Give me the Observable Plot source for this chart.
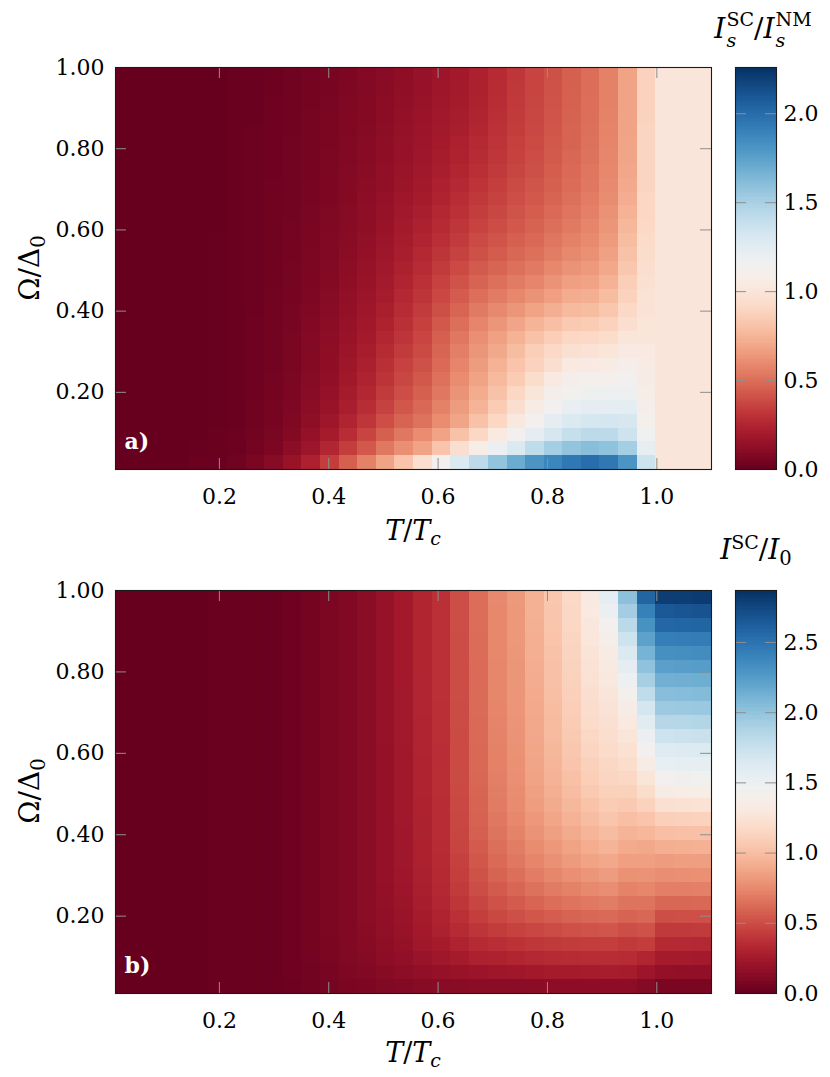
<!DOCTYPE html>
<html><head><meta charset="utf-8">
<script src="https://cdn.jsdelivr.net/npm/d3@7"></script>
<script src="https://cdn.jsdelivr.net/npm/@observablehq/plot@0.6"></script>
<style>
body{margin:0;background:#fff;}
#page{position:relative;width:830px;height:1077px;font-family:"DejaVu Serif","Liberation Serif",serif;color:#000;overflow:hidden;}
.lbl{position:absolute;font-size:27px;line-height:1;white-space:nowrap;transform:translate(-50%,-50%);}
.ttl{font-size:28px;}
.rot{transform:translate(-50%,-50%) rotate(-90deg);font-size:28px;}
.lbl sub{font-size:0.7em;vertical-align:-0.3em;line-height:0;}
.lbl sup{font-size:0.68em;vertical-align:0.5em;line-height:0;}
.ss{display:inline-flex;flex-direction:column;font-size:0.68em;line-height:1.12;vertical-align:0.66em;margin-left:1px;}
</style></head>
<body><div id="page"></div>
<script>
// T/Tc cell centres (columns) and Omega/Delta0 cell centres (rows)
const temp = [0.027,0.061,0.095,0.129,0.163,0.198,0.232,0.266,0.300,0.334,0.368,0.402,0.436,0.470,0.504,0.538,0.572,0.606,0.640,0.674,0.709,0.743,0.777,0.811,0.845,0.879,0.913,0.947,0.981,1.015,1.049,1.083];
const omega = [0.027,0.061,0.095,0.129,0.164,0.198,0.232,0.266,0.300,0.334,0.368,0.403,0.437,0.471,0.505,0.539,0.573,0.607,0.642,0.676,0.710,0.744,0.778,0.812,0.846,0.880,0.915,0.949,0.983];
const xTicks = [0.2,0.4,0.6,0.8,1.0];
const yTicks = [0.2,0.4,0.6,0.8,1.0];
const cbTicksA = [0,0.5,1.0,1.5,2.0];
const cbTicksB = [0,0.5,1.0,1.5,2.0,2.5];
const maxA = 2.26, maxB = 2.87;

// panel a) I_s^SC / I_s^NM : one array per T column, Omega ascending
const ratioA = [
[0,0,0,0,0,0,0,0,0,0,0,0,0,0,0,0,0,0,0,0,0,0,0,0,0,0,0,0,0],
[0,0,0,0,0,0,0,0,0,0,0,0,0,0,0,0,0,0,0,0,0,0,0,0,0,0,0,0,0],
[0,0,0,0,0,0,0,0,0,0,0,0,0,0,0,0,0,0,0,0,0,0,0,0,0,0,0,0,0],
[0,0,0,0,0,0,0,0,0,0,0,0,0,0,0,0,0,0,0,0,0,0,0,0,0,0,0,0,0],
[0.005,0.002,0,0,0,0,0,0,0,0,0,0,0,0,0,0,0,0,0,0,0,0,0,0,0,0,0,0,0],
[0.011,0.007,0.005,0.004,0.003,0.003,0.003,0.002,0.002,0.002,0.002,0.002,0.002,0.002,0.002,0.002,0.002,0.001,0.001,0.001,0.001,0.001,0.001,0.001,0.001,0.001,0,0,0],
[0.027,0.018,0.014,0.011,0.009,0.009,0.009,0.008,0.008,0.008,0.008,0.007,0.007,0.007,0.007,0.006,0.006,0.006,0.006,0.006,0.005,0.005,0.005,0.005,0.005,0.005,0.005,0.005,0.005],
[0.057,0.041,0.032,0.027,0.025,0.023,0.023,0.023,0.02,0.02,0.02,0.018,0.018,0.018,0.018,0.016,0.016,0.016,0.016,0.016,0.014,0.014,0.014,0.014,0.014,0.011,0.011,0.011,0.011],
[0.095,0.068,0.054,0.047,0.043,0.041,0.038,0.036,0.036,0.034,0.034,0.032,0.032,0.029,0.029,0.027,0.027,0.027,0.025,0.025,0.025,0.023,0.023,0.023,0.02,0.02,0.02,0.018,0.018],
[0.154,0.113,0.09,0.077,0.07,0.066,0.061,0.059,0.057,0.054,0.052,0.05,0.047,0.045,0.043,0.041,0.041,0.038,0.036,0.036,0.034,0.034,0.032,0.032,0.029,0.029,0.029,0.027,0.027],
[0.226,0.17,0.14,0.12,0.108,0.102,0.095,0.09,0.086,0.084,0.079,0.075,0.07,0.068,0.063,0.061,0.059,0.057,0.054,0.052,0.05,0.047,0.045,0.045,0.043,0.043,0.041,0.041,0.038],
[0.339,0.253,0.203,0.174,0.154,0.14,0.131,0.124,0.12,0.113,0.106,0.102,0.095,0.09,0.086,0.081,0.079,0.075,0.072,0.068,0.066,0.063,0.061,0.059,0.057,0.057,0.054,0.052,0.052],
[0.452,0.339,0.283,0.244,0.217,0.199,0.185,0.174,0.163,0.154,0.145,0.136,0.129,0.122,0.115,0.108,0.104,0.099,0.095,0.09,0.088,0.084,0.081,0.079,0.077,0.075,0.072,0.07,0.068],
[0.565,0.429,0.362,0.316,0.283,0.258,0.24,0.224,0.21,0.197,0.185,0.174,0.163,0.154,0.145,0.136,0.129,0.122,0.118,0.113,0.108,0.104,0.099,0.097,0.093,0.09,0.088,0.086,0.084],
[0.678,0.531,0.452,0.396,0.357,0.33,0.307,0.287,0.269,0.251,0.235,0.219,0.206,0.194,0.183,0.172,0.163,0.154,0.147,0.14,0.133,0.129,0.124,0.12,0.115,0.111,0.108,0.104,0.102],
[0.814,0.61,0.531,0.463,0.425,0.396,0.373,0.353,0.334,0.312,0.294,0.276,0.26,0.244,0.231,0.217,0.206,0.194,0.183,0.174,0.165,0.158,0.151,0.145,0.14,0.136,0.131,0.127,0.124],
[0.949,0.678,0.599,0.515,0.481,0.452,0.429,0.407,0.386,0.366,0.348,0.33,0.312,0.294,0.276,0.26,0.244,0.228,0.215,0.203,0.192,0.183,0.176,0.17,0.163,0.158,0.154,0.149,0.147],
[1.13,0.814,0.678,0.599,0.565,0.531,0.509,0.486,0.47,0.452,0.429,0.402,0.377,0.353,0.33,0.31,0.289,0.271,0.255,0.24,0.226,0.215,0.206,0.197,0.19,0.183,0.179,0.174,0.17],
[1.288,0.949,0.802,0.689,0.655,0.622,0.599,0.576,0.554,0.531,0.502,0.47,0.441,0.411,0.384,0.357,0.334,0.314,0.294,0.278,0.262,0.249,0.237,0.226,0.217,0.21,0.203,0.197,0.192],
[1.424,1.074,0.904,0.802,0.746,0.712,0.678,0.655,0.633,0.61,0.576,0.538,0.502,0.468,0.436,0.407,0.382,0.359,0.339,0.321,0.305,0.289,0.276,0.264,0.253,0.244,0.237,0.231,0.226],
[1.571,1.187,1.028,0.904,0.848,0.802,0.768,0.735,0.701,0.671,0.633,0.588,0.542,0.506,0.47,0.441,0.416,0.393,0.373,0.357,0.341,0.328,0.316,0.305,0.296,0.289,0.283,0.276,0.271],
[1.695,1.288,1.13,1.017,0.949,0.904,0.848,0.814,0.78,0.735,0.689,0.633,0.583,0.542,0.506,0.475,0.452,0.429,0.411,0.396,0.382,0.368,0.357,0.348,0.339,0.332,0.325,0.321,0.316],
[1.808,1.413,1.232,1.13,1.062,0.994,0.938,0.881,0.859,0.802,0.746,0.678,0.622,0.576,0.538,0.506,0.481,0.461,0.443,0.427,0.414,0.402,0.393,0.384,0.377,0.373,0.368,0.364,0.362],
[1.876,1.514,1.311,1.232,1.13,1.085,1.028,0.949,0.915,0.859,0.791,0.723,0.667,0.622,0.583,0.549,0.524,0.502,0.484,0.468,0.452,0.443,0.434,0.427,0.42,0.416,0.411,0.409,0.407],
[1.944,1.571,1.39,1.288,1.209,1.141,1.085,1.028,0.961,0.904,0.836,0.768,0.712,0.667,0.622,0.588,0.56,0.538,0.52,0.506,0.493,0.484,0.475,0.468,0.463,0.459,0.457,0.452,0.452],
[1.989,1.605,1.424,1.311,1.232,1.164,1.107,1.04,0.983,0.915,0.848,0.78,0.723,0.678,0.644,0.615,0.592,0.574,0.558,0.545,0.533,0.524,0.515,0.511,0.506,0.502,0.499,0.497,0.497],
[1.944,1.582,1.424,1.322,1.232,1.175,1.107,1.051,0.994,0.938,0.881,0.825,0.78,0.735,0.701,0.673,0.651,0.633,0.617,0.603,0.592,0.583,0.579,0.574,0.57,0.567,0.565,0.565,0.565],
[1.808,1.514,1.356,1.311,1.243,1.175,1.13,1.085,1.04,0.994,0.949,0.915,0.881,0.859,0.825,0.802,0.78,0.757,0.735,0.719,0.705,0.696,0.689,0.683,0.678,0.678,0.678,0.678,0.678],
[1.356,1.22,1.153,1.107,1.085,1.074,1.062,1.051,1.028,1.006,0.994,0.983,0.972,0.961,0.949,0.938,0.927,0.915,0.904,0.904,0.893,0.893,0.893,0.893,0.893,0.886,0.881,0.881,0.881],
[1,1,1,1,1,1,1,1,1,1,1,1,1,1,1,1,1,1,1,1,1,1,1,1,1,1,1,1,1],
[1,1,1,1,1,1,1,1,1,1,1,1,1,1,1,1,1,1,1,1,1,1,1,1,1,1,1,1,1],
[1,1,1,1,1,1,1,1,1,1,1,1,1,1,1,1,1,1,1,1,1,1,1,1,1,1,1,1,1]
];

// panel b) I^SC / I_0 : one array per T column, Omega ascending
const currentB = [
[0,0,0,0,0,0,0,0,0,0,0,0,0,0,0,0,0,0,0,0,0,0,0,0,0,0,0,0,0],
[0,0,0,0,0,0,0,0,0,0,0,0,0,0,0,0,0,0,0,0,0,0,0,0,0,0,0,0,0],
[0,0,0,0,0,0,0,0,0,0,0,0,0,0,0,0,0,0,0,0,0,0,0,0,0,0,0,0,0],
[0,0,0,0,0,0,0,0,0,0,0,0,0,0,0,0,0,0,0,0,0,0,0,0,0,0,0,0,0],
[0,0,0,0,0,0,0,0,0,0,0,0,0,0,0,0,0,0,0,0,0,0,0,0,0,0,0,0,0],
[0.006,0.006,0.006,0.006,0.006,0.006,0.006,0.006,0.006,0.006,0.006,0.006,0.006,0.006,0.006,0.006,0.006,0.006,0.006,0.006,0.006,0.006,0.006,0.006,0.006,0.006,0.006,0.006,0.006],
[0.009,0.009,0.009,0.009,0.009,0.009,0.009,0.009,0.009,0.009,0.009,0.009,0.009,0.009,0.009,0.009,0.009,0.009,0.009,0.009,0.009,0.009,0.009,0.009,0.009,0.009,0.009,0.009,0.009],
[0.011,0.011,0.011,0.011,0.011,0.011,0.011,0.011,0.011,0.011,0.011,0.011,0.011,0.011,0.011,0.011,0.011,0.011,0.011,0.011,0.011,0.011,0.011,0.011,0.011,0.011,0.011,0.011,0.011],
[0.014,0.017,0.017,0.017,0.017,0.017,0.017,0.017,0.017,0.017,0.017,0.017,0.017,0.017,0.017,0.017,0.017,0.017,0.017,0.017,0.017,0.017,0.017,0.017,0.017,0.017,0.017,0.017,0.017],
[0.023,0.026,0.029,0.029,0.029,0.029,0.029,0.029,0.029,0.029,0.029,0.029,0.029,0.029,0.029,0.029,0.029,0.029,0.029,0.029,0.029,0.029,0.029,0.029,0.029,0.029,0.029,0.029,0.029],
[0.04,0.046,0.049,0.052,0.052,0.052,0.052,0.052,0.052,0.052,0.052,0.052,0.052,0.052,0.052,0.052,0.052,0.052,0.052,0.052,0.052,0.052,0.052,0.052,0.052,0.052,0.052,0.052,0.052],
[0.057,0.066,0.072,0.075,0.077,0.077,0.077,0.077,0.077,0.077,0.077,0.077,0.077,0.077,0.077,0.077,0.077,0.077,0.077,0.077,0.077,0.077,0.077,0.077,0.077,0.077,0.077,0.077,0.077],
[0.075,0.089,0.098,0.103,0.106,0.106,0.106,0.106,0.106,0.106,0.106,0.106,0.106,0.106,0.106,0.106,0.106,0.106,0.106,0.106,0.106,0.106,0.106,0.106,0.106,0.106,0.106,0.106,0.106],
[0.086,0.106,0.118,0.126,0.132,0.135,0.138,0.138,0.138,0.138,0.138,0.138,0.138,0.138,0.138,0.138,0.138,0.138,0.138,0.138,0.138,0.138,0.138,0.138,0.138,0.138,0.138,0.138,0.138],
[0.098,0.126,0.144,0.155,0.164,0.169,0.172,0.175,0.178,0.178,0.181,0.181,0.181,0.184,0.184,0.184,0.184,0.184,0.187,0.187,0.187,0.187,0.187,0.187,0.187,0.187,0.187,0.187,0.187],
[0.109,0.144,0.166,0.184,0.195,0.204,0.21,0.215,0.221,0.224,0.227,0.23,0.232,0.235,0.235,0.238,0.238,0.238,0.241,0.241,0.241,0.241,0.244,0.244,0.244,0.244,0.244,0.244,0.244],
[0.121,0.166,0.201,0.224,0.244,0.258,0.27,0.278,0.284,0.287,0.293,0.296,0.298,0.301,0.304,0.307,0.307,0.31,0.31,0.31,0.313,0.313,0.313,0.316,0.316,0.316,0.316,0.316,0.316],
[0.129,0.184,0.23,0.258,0.287,0.304,0.319,0.33,0.339,0.344,0.35,0.353,0.356,0.359,0.362,0.362,0.364,0.364,0.367,0.367,0.367,0.37,0.37,0.37,0.373,0.373,0.373,0.373,0.373],
[0.132,0.195,0.258,0.304,0.344,0.373,0.399,0.419,0.436,0.448,0.459,0.468,0.474,0.479,0.482,0.485,0.488,0.491,0.491,0.494,0.494,0.497,0.497,0.499,0.499,0.499,0.502,0.502,0.502],
[0.135,0.207,0.287,0.342,0.393,0.433,0.468,0.497,0.519,0.54,0.557,0.571,0.583,0.591,0.597,0.603,0.608,0.611,0.614,0.617,0.62,0.62,0.623,0.623,0.626,0.626,0.629,0.629,0.631],
[0.138,0.218,0.301,0.364,0.425,0.476,0.519,0.557,0.588,0.614,0.637,0.657,0.672,0.686,0.697,0.706,0.712,0.718,0.723,0.726,0.729,0.732,0.735,0.738,0.74,0.74,0.743,0.743,0.746],
[0.138,0.23,0.316,0.382,0.451,0.508,0.557,0.6,0.637,0.669,0.697,0.72,0.74,0.755,0.766,0.775,0.781,0.786,0.792,0.795,0.798,0.801,0.804,0.806,0.809,0.812,0.815,0.815,0.818],
[0.141,0.244,0.33,0.402,0.474,0.54,0.597,0.649,0.692,0.729,0.763,0.792,0.815,0.835,0.85,0.861,0.87,0.878,0.884,0.89,0.895,0.901,0.907,0.913,0.918,0.921,0.924,0.93,0.933],
[0.144,0.253,0.344,0.416,0.494,0.565,0.629,0.686,0.735,0.778,0.815,0.85,0.878,0.901,0.921,0.938,0.953,0.964,0.976,0.984,0.993,1.002,1.01,1.016,1.022,1.03,1.036,1.042,1.048],
[0.144,0.258,0.35,0.425,0.511,0.588,0.657,0.718,0.772,0.821,0.864,0.901,0.936,0.964,0.99,1.013,1.033,1.05,1.065,1.079,1.091,1.102,1.114,1.122,1.131,1.139,1.148,1.157,1.162],
[0.144,0.264,0.356,0.431,0.522,0.606,0.68,0.746,0.806,0.861,0.91,0.953,0.993,1.027,1.059,1.088,1.114,1.137,1.157,1.177,1.194,1.211,1.228,1.243,1.257,1.271,1.289,1.306,1.32],
[0.144,0.267,0.359,0.436,0.531,0.617,0.697,0.769,0.832,0.89,0.944,0.993,1.039,1.076,1.108,1.134,1.157,1.177,1.2,1.223,1.246,1.269,1.292,1.314,1.34,1.378,1.435,1.507,1.579],
[0.144,0.264,0.35,0.416,0.502,0.588,0.66,0.723,0.786,0.847,0.898,0.947,1.005,1.062,1.114,1.157,1.191,1.225,1.263,1.306,1.349,1.421,1.492,1.564,1.636,1.722,1.822,1.923,2.023],
[0.115,0.215,0.316,0.431,0.517,0.603,0.66,0.732,0.789,0.847,0.89,0.961,1.033,1.119,1.191,1.263,1.349,1.435,1.507,1.593,1.679,1.794,1.909,2.009,2.109,2.21,2.31,2.411,2.583],
[0.072,0.172,0.258,0.339,0.416,0.502,0.603,0.703,0.769,0.832,0.918,1.005,1.105,1.22,1.349,1.435,1.535,1.607,1.722,1.837,1.952,2.038,2.124,2.224,2.325,2.425,2.569,2.655,2.798],
[0.072,0.166,0.253,0.336,0.416,0.505,0.606,0.706,0.775,0.838,0.924,1.01,1.111,1.225,1.355,1.444,1.544,1.622,1.731,1.845,1.96,2.046,2.132,2.233,2.333,2.434,2.574,2.669,2.798],
[0.072,0.164,0.25,0.333,0.419,0.508,0.608,0.709,0.781,0.844,0.93,1.016,1.119,1.234,1.363,1.452,1.553,1.63,1.739,1.854,1.969,2.055,2.141,2.241,2.342,2.442,2.583,2.683,2.813]
];

const page = document.getElementById("page");
const FONT = "'DejaVu Serif','Liberation Serif',serif";

function edges(c) {
  const n = c.length, e = [];
  for (let i = 0; i <= n; i++) {
    if (i === 0) e.push(c[0] - (c[1] - c[0]) / 2);
    else if (i === n) e.push(c[n - 1] + (c[n - 1] - c[n - 2]) / 2);
    else e.push((c[i - 1] + c[i]) / 2);
  }
  return e;
}
const tE = edges(temp), oE = edges(omega);
const xDom = [tE[0], tE[tE.length - 1]], yDom = [oE[0], oE[oE.length - 1]];

function panel(cols, max, cbTicks, letter, top, height, mTop, mBottom) {
  const cells = [];
  cols.forEach((col, i) => col.forEach((v, j) => {
    if (j < omega.length) cells.push({x1: tE[i], x2: tE[i + 1], y1: oE[j], y2: oE[j + 1], v});
  }));
  const W = 740, mL = 115, mR = 29;
  const H = height - mTop - mBottom;
  const lenX = 11 / (W - mL - mR) * (xDom[1] - xDom[0]);
  const lenY = 11 / H * (yDom[1] - yDom[0]);
  const tickStroke = "#8f8f8f";
  const color = {type: "linear", scheme: "RdBu", domain: [0, max]};
  const heat = Plot.plot({
    width: W, height, marginLeft: mL, marginRight: mR, marginTop: mTop, marginBottom: mBottom,
    style: {fontFamily: FONT, fontSize: "22px", background: "transparent", overflow: "visible"},
    x: {domain: xDom, ticks: xTicks, tickFormat: d3.format(".1f"), tickSize: 0, tickPadding: 19, label: null},
    y: {domain: yDom, ticks: yTicks, tickFormat: d3.format(".2f"), tickSize: 0, tickPadding: 11, label: null},
    color,
    marks: [
      Plot.rect(cells, {x1: "x1", x2: "x2", y1: "y1", y2: "y2", fill: "v", shapeRendering: "crispEdges"}),
      Plot.ruleX(xTicks, {x: d => d, y1: yDom[0], y2: yDom[0] + lenY, stroke: tickStroke}),
      Plot.ruleX(xTicks, {x: d => d, y1: yDom[1] - lenY, y2: yDom[1], stroke: tickStroke}),
      Plot.ruleY(yTicks, {y: d => d, x1: xDom[0], x2: xDom[0] + lenX, stroke: tickStroke}),
      Plot.ruleY(yTicks, {y: d => d, x1: xDom[1] - lenX, x2: xDom[1], stroke: tickStroke}),
      Plot.text([letter], {text: d => d, frameAnchor: "bottom-left", dx: 9, dy: -21, fill: "white", fontWeight: "bold", fontSize: 22}),
      Plot.frame({stroke: "#1a1a1a", strokeWidth: 1.1})
    ]
  });
  heat.style.position = "absolute"; heat.style.left = "0px"; heat.style.top = top + "px";
  page.appendChild(heat);

  const nSteps = 300;
  const steps = d3.range(nSteps).map(i => ({a: i * max / nSteps, b: (i + 1) * max / nSteps}));
  const cb = Plot.plot({
    width: 130, height, marginLeft: 35, marginRight: 54, marginTop: mTop, marginBottom: mBottom,
    style: {fontFamily: FONT, fontSize: "22px", background: "transparent", overflow: "visible"},
    x: {domain: [0, 1], axis: null},
    y: {domain: [0, max], axis: "right", ticks: cbTicks, tickFormat: d3.format(".1f"), tickSize: 0, tickPadding: 7, label: null},
    color,
    marks: [
      Plot.rect(steps, {x1: 0, x2: 1, y1: "a", y2: "b", fill: d => (d.a + d.b) / 2, shapeRendering: "crispEdges"}),
      Plot.ruleY(cbTicks, {y: d => d, x1: 0, x2: 0.27, stroke: tickStroke}),
      Plot.ruleY(cbTicks, {y: d => d, x1: 0.73, x2: 1, stroke: tickStroke}),
      Plot.frame({stroke: "#1a1a1a", strokeWidth: 1.1})
    ]
  });
  cb.style.position = "absolute"; cb.style.left = "700px"; cb.style.top = top + "px";
  page.appendChild(cb);
}

panel(ratioA, maxA, cbTicksA, "a)", 0, 545, 67, 76);
panel(currentB, maxB, cbTicksB, "b)", 545, 532, 45, 84);

function label(html, x, y, cls) {
  const d = document.createElement("div");
  d.className = "lbl" + (cls ? " " + cls : "");
  d.style.left = x + "px"; d.style.top = y + "px";
  d.innerHTML = html;
  page.appendChild(d);
}
const yLab = "Ω/Δ<sub>0</sub>";
const xLab = "<i>T</i>/<i>T</i><sub><i>c</i></sub>";
label(yLab, 30, 268, "rot");
label(xLab, 413, 530);
label("<i>I</i><span class='ss'><span>SC</span><span><i>s</i></span></span>/<i>I</i><span class='ss'><span>NM</span><span><i>s</i></span></span>", 763, 30, "ttl");
label(yLab, 30, 791, "rot");
label(xLab, 413, 1052);
label("<i>I</i><sup>SC</sup>/<i>I</i><sub>0</sub>", 756, 550, "ttl");
</script>
</body></html>
